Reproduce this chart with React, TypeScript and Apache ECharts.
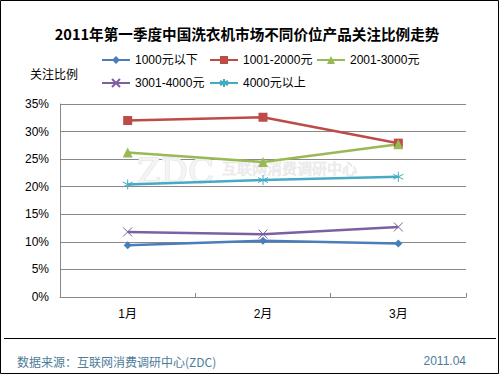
import React, { useEffect, useRef } from "react";
import * as echarts from "echarts";

const categories = ["1月", "2月", "3月"];
const seriesNames = ["1000元以下", "1001-2000元", "2001-3000元", "3001-4000元", "4000元以上"];
const s1000 = [9.4, 10.2, 9.7];
const s2000 = [32.0, 32.6, 27.9];
const s3000 = [26.2, 24.5, 27.7];
const s4000 = [11.8, 11.4, 12.7];
const sAbove = [20.4, 21.2, 21.8];
const yTicks = [0, 5, 10, 15, 20, 25, 30, 35];

const colors = ["#4a7ebb", "#be4b48", "#98b954", "#7d60a0", "#46aac5"];
const symbols = [
  "diamond",
  "rect",
  "triangle",
  "path://M0,0 L10,10 M10,0 L0,10",
  "path://M5,0 L5,10 M0,2.5 L10,7.5 M0,7.5 L10,2.5",
];
const symbolSizes = [8, 9, 10, 9, 10];

const FONT = "'Liberation Sans', Arial, 'Noto Sans CJK SC', sans-serif";

export default function App() {
  const ref = useRef<HTMLDivElement>(null);
  useEffect(() => {
    if (!ref.current) return;
    const chart = echarts.init(ref.current, undefined, { renderer: "svg" });
    const datas = [s1000, s2000, s3000, s4000, sAbove];
    const legendPos = [
      [101, 54],
      [209, 54],
      [316, 54],
      [101, 77],
      [209, 77],
    ];
    chart.setOption({
      animation: false,
      backgroundColor: "#ffffff",
      title: {
        text: "2011年第一季度中国洗衣机市场不同价位产品关注比例走势",
        left: 242,
        top: 21,
        textAlign: "center",
        textStyle: {
          fontSize: 14.6,
          fontWeight: "bold",
          color: "#000",
          fontFamily: "'Noto Sans CJK SC', sans-serif",
        },
      },
      legend: seriesNames.map((n, i) => ({
        data: [n],
        left: legendPos[i][0],
        top: legendPos[i][1],
        itemWidth: 28,
        itemHeight: 10,
        padding: 0,
        textStyle: { fontSize: 12, color: "#000", fontFamily: FONT },
      })),
      grid: { left: 60, right: 34, top: 104, bottom: 78, containLabel: false },
      xAxis: {
        type: "category",
        data: categories,
        boundaryGap: true,
        axisLine: { lineStyle: { color: "#888", width: 1 } },
        axisTick: { show: true, length: 4, inside: true, lineStyle: { color: "#888" } },
        axisLabel: { fontSize: 12, color: "#000", margin: 11, fontFamily: FONT },
      },
      yAxis: {
        type: "value",
        min: 0,
        max: 35,
        interval: 5,
        axisLine: { show: true, lineStyle: { color: "#888" } },
        axisTick: { show: false },
        axisLabel: {
          fontSize: 12,
          color: "#000",
          margin: 11,
          fontFamily: FONT,
          formatter: (v: number) => (yTicks.includes(v) ? v + "%" : ""),
        },
        splitLine: { lineStyle: { color: "#888", width: 1 } },
      },
      series: seriesNames.map((n, i) => ({
        name: n,
        type: "line",
        data: datas[i],
        symbol: symbols[i],
        symbolSize: symbolSizes[i],
        showAllSymbol: true,
        z: 3,
        lineStyle: { color: colors[i], width: 2.5 },
        itemStyle: { color: colors[i], borderColor: colors[i], borderWidth: i >= 3 ? 1 : 0 },
      })),
      graphic: [
        {
          type: "rect",
          shape: { x: 0.5, y: 0.5, width: 498, height: 373 },
          style: { fill: "none", stroke: "#000", lineWidth: 1 },
          silent: true,
        },
        {
          type: "line",
          shape: { x1: 4, y1: 338.5, x2: 496, y2: 338.5 },
          style: { stroke: "#000", lineWidth: 1 },
          silent: true,
        },
        {
          type: "text",
          x: 54,
          y: 73,
          style: {
            text: "关注比例",
            fontSize: 12,
            fill: "#000",
            align: "center",
            verticalAlign: "middle",
            fontFamily: "'Noto Sans CJK SC', sans-serif",
          },
        },
        {
          type: "text",
          x: 137,
          y: 171,
          z: 1,
          style: {
            text: "ZDC",
            fontSize: 34,
            fill: "#f4f4f4",
            stroke: "#dedede",
            lineWidth: 1,
            verticalAlign: "middle",
            fontFamily: "'DejaVu Serif', serif",
          },
        },
        {
          type: "text",
          x: 222,
          y: 167,
          z: 1,
          style: {
            text: "互联网消费调研中心",
            fontSize: 15,
            fill: "#ececec",
            stroke: "#e0e0e0",
            lineWidth: 0.5,
            verticalAlign: "middle",
            fontFamily: "'Noto Sans CJK SC', sans-serif",
          },
        },
        {
          type: "text",
          x: 17,
          y: 361,
          style: {
            text: "数据来源：互联网消费调研中心(ZDC)",
            fontSize: 12,
            fill: "#4d7c99",
            verticalAlign: "middle",
            fontFamily: "'Noto Sans CJK SC', sans-serif",
          },
        },
        {
          type: "text",
          x: 466,
          y: 361,
          style: {
            text: "2011.04",
            fontSize: 12,
            fill: "#4d7c99",
            align: "right",
            verticalAlign: "middle",
            fontFamily: FONT,
          },
        },
      ],
    });
    return () => chart.dispose();
  }, []);
  return (
    <div
      ref={ref}
      style={{ position: "absolute", left: 0, top: 0, width: 500, height: 375 }}
    />
  );
}
